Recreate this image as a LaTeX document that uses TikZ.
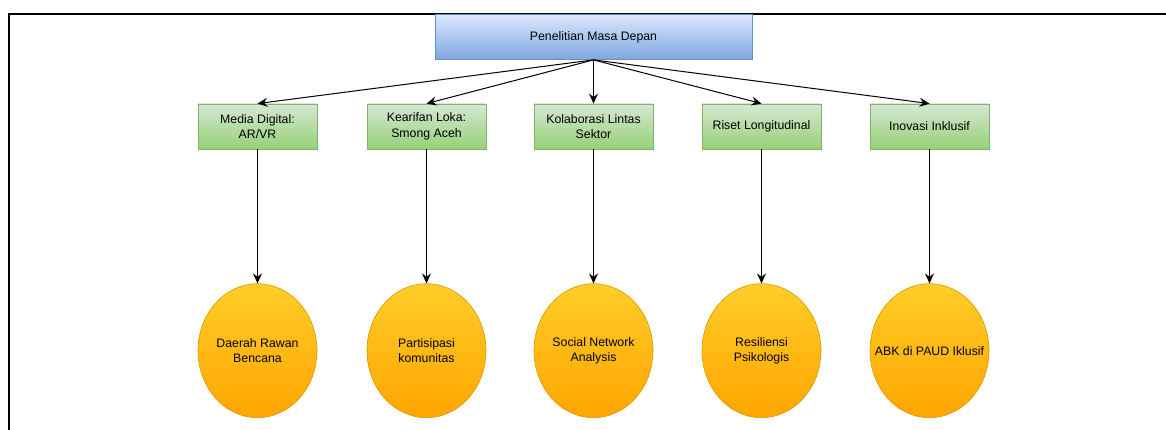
\documentclass[tikz,border=0pt]{standalone}
\usepackage{fontspec}
\setmainfont{Liberation Sans}
\usepackage{xcolor}
\usepackage{tikz}
\usetikzlibrary{arrows.meta,positioning,shapes.geometric}

\definecolor{blueTop}{HTML}{DAE8FC}
\definecolor{blueBot}{HTML}{7EA6E0}
\definecolor{blueLine}{HTML}{6C8EBF}
\definecolor{greenTop}{HTML}{D5E8D4}
\definecolor{greenBot}{HTML}{97D077}
\definecolor{greenLine}{HTML}{82B366}
\definecolor{orangeTop}{HTML}{FFCD28}
\definecolor{orangeBot}{HTML}{FFA500}
\definecolor{orangeLine}{HTML}{D79B00}

\begin{document}
\begin{tikzpicture}[
  x=1pt, y=-1pt,
  topic/.style={draw=blueLine, line width=0.8pt, top color=blueTop,
                bottom color=blueBot, minimum width=317pt,
                minimum height=45pt, inner sep=0pt, align=center,
                font=\fontsize{12.3}{15.5}\selectfont},
  area/.style={draw=greenLine, line width=0.8pt, top color=greenTop,
               bottom color=greenBot, minimum width=119pt,
               minimum height=45pt, inner sep=0pt, align=center,
               font=\fontsize{12.3}{15.5}\selectfont},
  focus/.style={draw=orangeLine, ellipse, line width=0.6pt,
                top color=orangeTop, bottom color=orangeBot,
                minimum width=119pt, minimum height=134pt, inner sep=0pt,
                align=center, font=\fontsize{12.3}{15.5}\selectfont},
  >={Stealth[length=10pt,width=9pt,inset=3.5pt]},
  link/.style={->, line width=1pt},
]
  \useasboundingbox (0,0) rectangle (1166,430);
  % frame
  \draw[line width=2.3pt] (9,430) -- (9,14) -- (1166,14);

  \node[topic] (root) at (593.5,37) {Penelitian Masa Depan};

  \node[area] (media)  at (257.5,126.5) {Media Digital:\\AR/VR};
  \node[area] (lokal)  at (426.5,126.5) {Kearifan Loka:\\Smong Aceh};
  \node[area] (kolab)  at (593.5,126.5) {Kolaborasi Lintas\\Sektor};
  \node[area] (riset)  at (761.5,126.5) {Riset Longitudinal};
  \node[area] (inovasi) at (929.5,126.5) {Inovasi Inklusif};

  \node[focus, below=134pt of media] (bencana) {Daerah Rawan\\Bencana};
  \node[focus, below=134pt of lokal] (komunitas) {Partisipasi\\komunitas};
  \node[focus, below=134pt of kolab] (sna) {Social Network\\Analysis};
  \node[focus, below=134pt of riset] (resiliensi) {Resiliensi\\Psikologis};
  \node[focus, below=134pt of inovasi] (abk)
    {\makebox[0pt]{ABK di PAUD Iklusif}};

  \draw[link] (root.south) -- (media.north);
  \draw[link] (root.south) -- (lokal.north);
  \draw[link] (root.south) -- (kolab.north);
  \draw[link] (root.south) -- (riset.north);
  \draw[link] (root.south) -- (inovasi.north);

  \draw[link] (media) -- (bencana);
  \draw[link] (lokal) -- (komunitas);
  \draw[link] (kolab) -- (sna);
  \draw[link] (riset) -- (resiliensi);
  \draw[link] (inovasi) -- (abk);
\end{tikzpicture}
\end{document}
